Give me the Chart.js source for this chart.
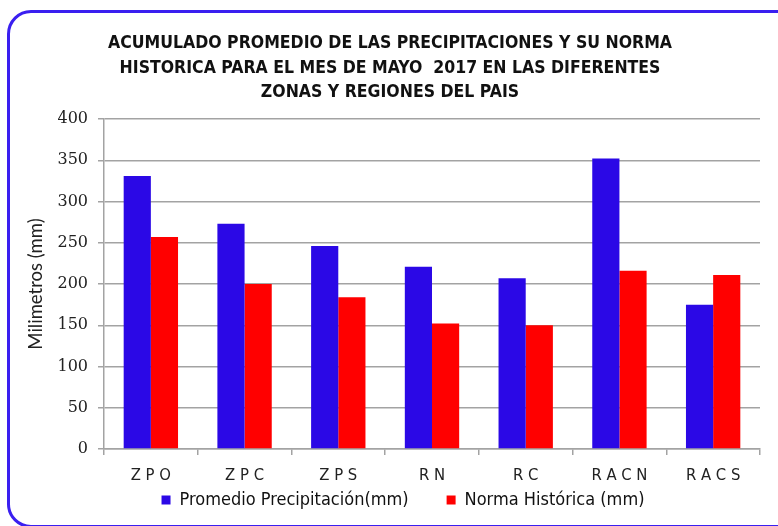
<!DOCTYPE html>
<html>
<head>
<meta charset="utf-8">
<script src="https://cdn.jsdelivr.net/npm/chart.js@4.4.1/dist/chart.umd.min.js"></script>
<style>
  html, body { margin: 0; padding: 0; background: #fff; }
  #wrap { position: relative; width: 778px; height: 526px; overflow: hidden; }
  #frame {
    position: absolute; left: 7px; top: 10px; width: 790px; height: 512px;
    border: 3px solid #3a1ff0; border-radius: 24px;
  }
  #c { position: absolute; left: 0; top: 0; }
</style>
</head>
<body>
<div id="wrap">
  <div id="frame"></div>
  <canvas id="c" width="778" height="526"></canvas>
</div>
<script>
// data
const zonas = ['Z P O', 'Z P C', 'Z P S', 'R N', 'R C', 'R A C N', 'R A C S'];
const promedio = [331, 273, 246, 221, 207, 352, 175];
const norma = [257, 200, 184, 152, 150, 216, 211];
const yTicks = [0, 50, 100, 150, 200, 250, 300, 350, 400];

const tituloLineas = [
    'ACUMULADO PROMEDIO DE LAS PRECIPITACIONES Y SU NORMA',
    'HISTORICA PARA EL MES DE MAYO  2017 EN LAS DIFERENTES',
    'ZONAS Y REGIONES DEL PAIS'
];

const narrow = "'Liberation Sans Narrow', 'DejaVu Sans Condensed', sans-serif";
const gris = '#a3a3a3';

// legend padding is big (wide gap between the two items), so move its box by hand
const legendShift = {
    id: 'legendShift',
    beforeDraw(chart) {
        const lg = chart.legend;
        if (!lg) return;
        lg.top = 453;
        lg.bottom = 526;
        lg.left += 13;
        lg.right += 13;
    }
};

const ctx = document.getElementById('c').getContext('2d');
const myChart = new Chart(ctx, {
    type: 'bar',
    data: {
        labels: zonas,
        datasets: [{
            label: 'Promedio Precipitación(mm)',
            data: promedio,
            backgroundColor: '#2b08e6',
            borderWidth: 0
        },
        {
            label: 'Norma Histórica (mm)',
            data: norma,
            backgroundColor: '#ff0000',
            borderWidth: 0
        }]
    },
    options: {
        responsive: false,
        animation: false,
        devicePixelRatio: 1,
        categoryPercentage: 0.58,
        barPercentage: 1.0,
        layout: { padding: { left: 20, right: 18, top: 0, bottom: 3 } },
        plugins: {
            tooltip: { enabled: false },
            title: {
                display: true,
                text: tituloLineas,
                color: '#111',
                font: { family: narrow, size: 17.5, weight: 'bold', lineHeight: 1.4 },
                padding: { top: 31.5, bottom: 14 }
            },
            legend: {
                position: 'bottom',
                maxHeight: 40,
                labels: {
                    color: '#111',
                    boxWidth: 9,
                    boxHeight: 9,
                    padding: 38,
                    font: { family: narrow, size: 18 }
                }
            }
        },
        scales: {
            x: {
                grid: { offset: true, drawOnChartArea: false, drawTicks: true, tickLength: 6, color: gris, lineWidth: 1.5 },
                border: { color: gris, width: 1.5 },
                ticks: { color: '#222', padding: 11, font: { family: narrow, size: 16.5 } },
                afterFit: (scale) => { scale.height = 34; }
            },
            y: {
                min: 0,
                max: 400,
                afterBuildTicks: (scale) => { scale.ticks = yTicks.map(v => ({ value: v })); },
                grid: { color: gris, lineWidth: 1.5, tickLength: 6 },
                border: { color: gris, width: 1.5 },
                ticks: { color: '#222', padding: 10, font: { family: "'DejaVu Serif', serif", size: 16 } },
                title: {
                    display: true,
                    text: 'Milimetros (mm)',
                    color: '#222',
                    font: { family: "Lato, sans-serif", size: 18.5 },
                    padding: { top: 5, bottom: 0 }
                },
                afterFit: (scale) => { scale.width = 84; }
            }
        }
    },
    plugins: [legendShift]
});
</script>
</body>
</html>
